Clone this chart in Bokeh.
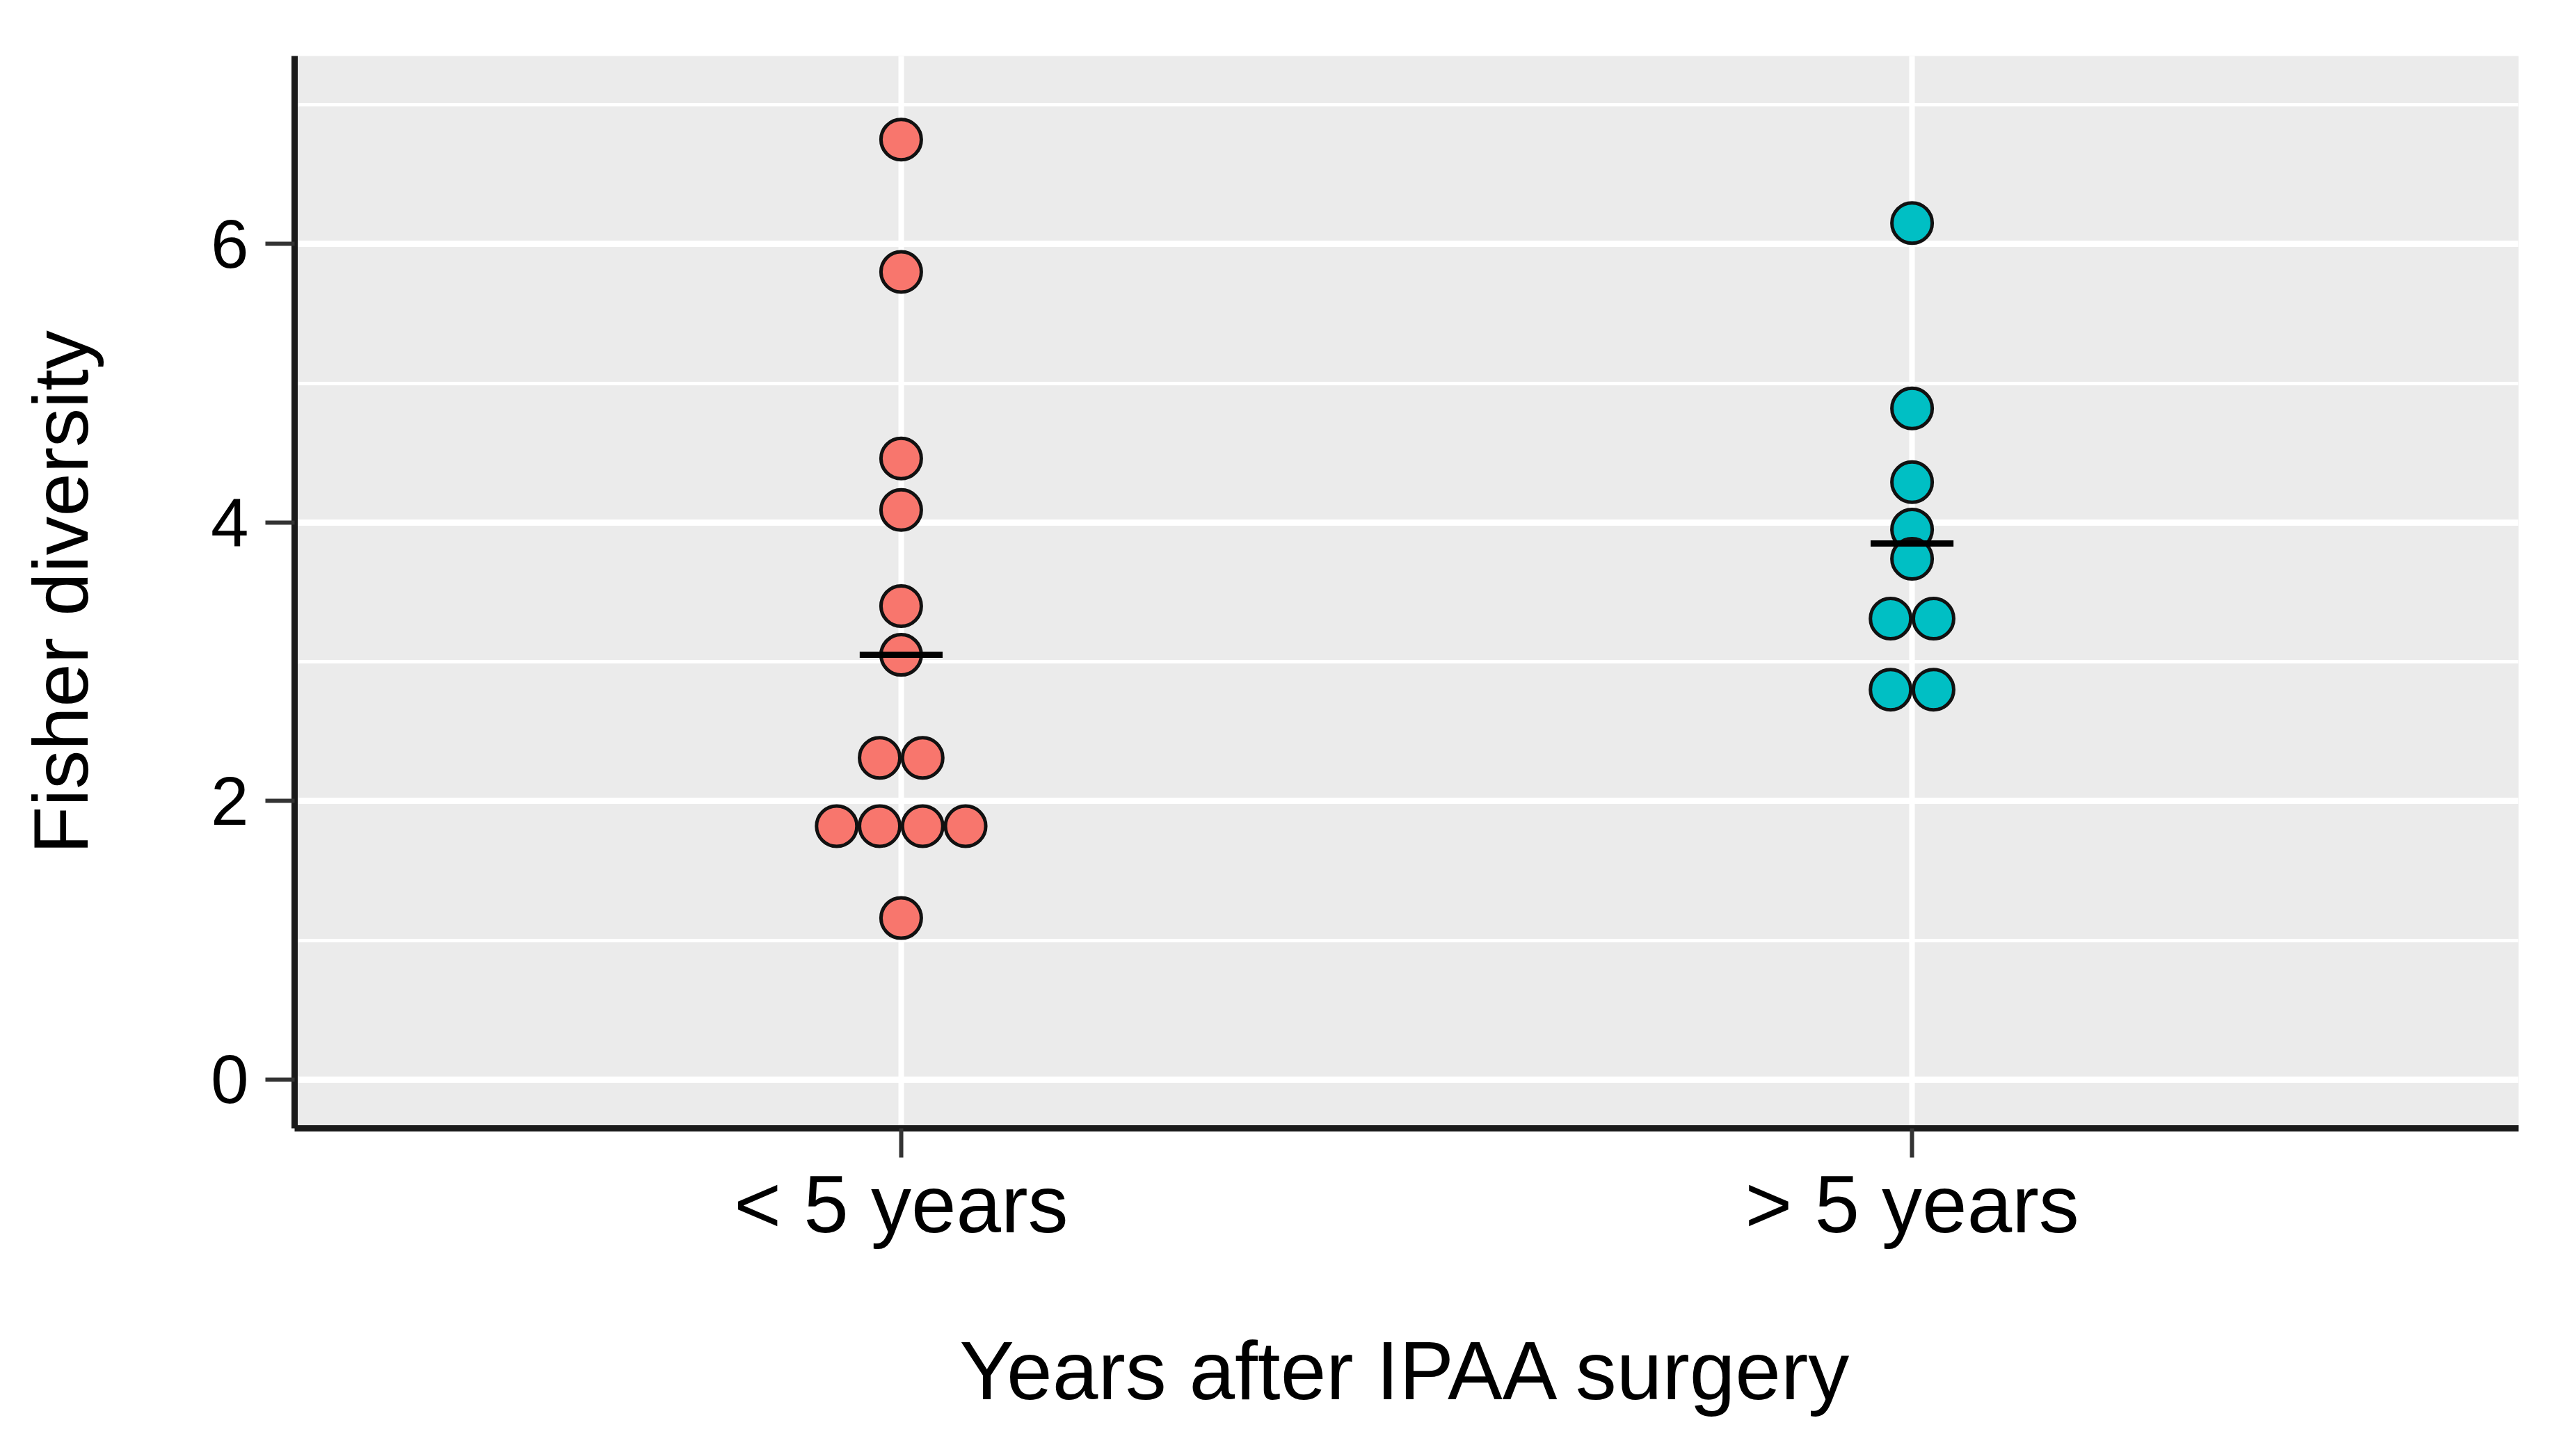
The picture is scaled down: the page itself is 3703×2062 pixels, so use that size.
from bokeh.plotting import figure
from bokeh.models import Range1d, FixedTicker, ColumnDataSource
from bokeh.embed import file_html
from bokeh.resources import INLINE

# ---- data ----
categories = ["< 5 years", "> 5 years"]
colors = ["#F8766D", "#00BFC4"]
lt5_values = [6.75, 5.80, 4.46, 4.09, 3.40, 3.05, 2.31, 2.31, 1.82, 1.82, 1.82, 1.82, 1.16]
gt5_values = [6.15, 4.82, 4.29, 3.95, 3.74, 3.31, 3.31, 2.80, 2.80]
center_values = [3.05, 3.85]   # horizontal summary bars
y_ticks = [0, 2, 4, 6]
y_minor = [1, 3, 5, 7]

DOT_STEP = 0.0425      # horizontal spacing of stacked dots (x units)
BAR_HALF = 0.041       # half width of the summary bar (x units)

groups = [lt5_values, gt5_values]

W, H = 3695, 2054
p = figure(width=W, height=H, output_backend="svg", toolbar_location=None,
           x_range=Range1d(0.4, 2.6), y_range=Range1d(-0.35, 7.35),
           min_border_left=423, min_border_right=75,
           min_border_top=80, min_border_bottom=432)

p.background_fill_color = "#EBEBEB"
p.border_fill_color = "white"
p.outline_line_color = None

# grids
p.xgrid.ticker = FixedTicker(ticks=[1, 2])
p.xgrid.grid_line_color = "white"
p.xgrid.grid_line_width = 8
p.ygrid.ticker = FixedTicker(ticks=y_ticks, minor_ticks=y_minor)
p.ygrid.grid_line_color = "white"
p.ygrid.grid_line_width = 9
p.ygrid.minor_grid_line_color = "white"
p.ygrid.minor_grid_line_width = 5

# points, stacked side by side where values coincide
for gi, vals in enumerate(groups):
    xs, ys = [], []
    counts = {}
    for v in vals:
        counts[v] = counts.get(v, 0) + 1
    for v, n in counts.items():
        for i in range(n):
            xs.append(gi + 1 + (i - (n - 1) / 2) * DOT_STEP)
            ys.append(v)
    src = ColumnDataSource(dict(x=xs, y=ys))
    p.scatter("x", "y", source=src, marker="circle", size=58,
              fill_color=colors[gi], line_color="#111111", line_width=5)

# summary bars
bx = [i + 1 for i in range(len(categories))]
p.segment(x0=[b - BAR_HALF for b in bx], x1=[b + BAR_HALF for b in bx],
          y0=center_values, y1=center_values, line_color="black", line_width=9)

# axes
font = "Liberation Sans"
xa = p.xaxis[0]
xa.ticker = FixedTicker(ticks=bx)
xa.major_label_overrides = {b: c for b, c in zip(bx, categories)}
xa.axis_label = "Years after IPAA surgery"
ya = p.yaxis[0]
ya.ticker = FixedTicker(ticks=y_ticks, minor_ticks=y_minor)
ya.axis_label = "Fisher diversity"

for ax in (xa, ya):
    ax.axis_line_color = "#1a1a1a"
    ax.axis_line_width = 9
    ax.major_tick_line_color = "#333333"
    ax.major_tick_line_width = 6
    ax.major_tick_out = 42
    ax.major_tick_in = 0
    ax.minor_tick_line_color = None
    ax.major_label_text_font = font
    ax.axis_label_text_font = font
    ax.axis_label_text_font_style = "normal"
    ax.major_label_text_color = "black"
    ax.axis_label_text_color = "black"

xa.major_label_text_font_size = "116px"
xa.major_label_standoff = 2
xa.axis_label_text_font_size = "118px"
xa.axis_label_standoff = 105

ya.major_label_text_font_size = "98px"
ya.major_label_standoff = 24
ya.axis_label_text_font_size = "112px"
ya.axis_label_standoff = 150

open("out.html", "w").write(file_html(p, INLINE))
